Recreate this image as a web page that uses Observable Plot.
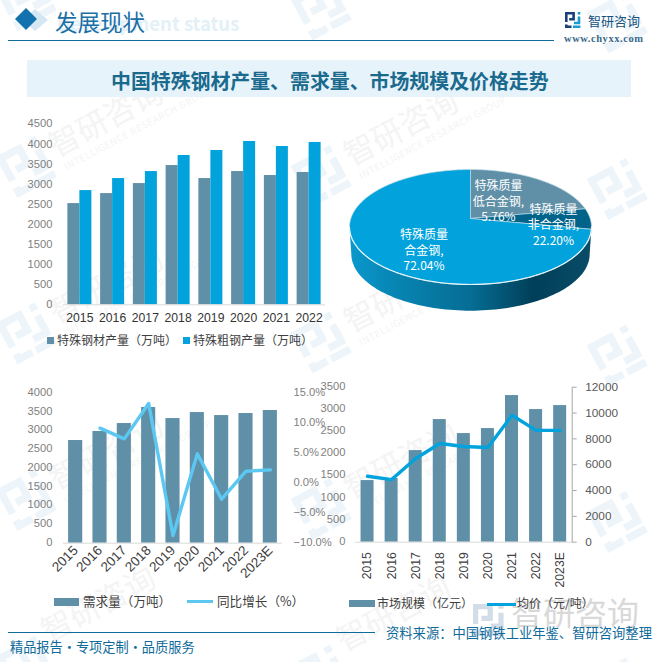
<!DOCTYPE html>
<html lang="zh">
<head>
<meta charset="utf-8">
<script src="https://cdn.jsdelivr.net/npm/d3@7"></script>
<script src="https://cdn.jsdelivr.net/npm/@observablehq/plot@0.6"></script>
<style>
html,body{margin:0;padding:0;background:#fff;}
#page{position:relative;width:658px;height:662px;overflow:hidden;font-family:"Noto Sans CJK SC","Noto Sans",sans-serif;}
#page svg{position:absolute;overflow:visible;}
.t{position:absolute;white-space:nowrap;line-height:1;}
.sw{position:absolute;}
</style>
</head>
<body>
<div id="page"></div>
<script>
const years8 = ["2015","2016","2017","2018","2019","2020","2021","2022"];
const years9 = ["2015","2016","2017","2018","2019","2020","2021","2022","2023E"];
const specialSteel = [2516,2765,3014,3462,3139,3313,3214,3289];
const crudeSteel = [2840,3139,3313,3712,3837,4060,3936,4036];
const demand = [2738,2978,3191,3618,3324,3484,3404,3458,3538];
const demandGrowth = [null,9.17,7.39,13.28,-8.72,4.89,-2.67,2.0,2.22];
const marketSize = [1392,1437,2069,2769,2453,2566,3311,2995,3085];
const avgPrice = [5106,4847,6480,7646,7413,7335,9824,8657,8657];
const pieNames = ["特殊质量非合金钢","特殊质量低合金钢","特殊质量合金钢"];
const pieShares = [22.20,5.76,72.04];

const GRAY="#5f90a8", BLUE="#02a3dc", SKY="#5cc8f2", DARKB="#00638a", INK="#0e6a9a";
const FONT_NUM='"Liberation Sans",Arial,sans-serif';
const page=document.getElementById("page");
const plain=d3.format("d");

function place(node,left,top,z){
  node.style.position="absolute";node.style.left=left+"px";node.style.top=top+"px";
  node.style.zIndex=z;page.appendChild(node);return node;
}
function text(str,x,y,size,color,extra={}){
  const d=document.createElement("div");d.className="t";d.textContent=str;
  Object.assign(d.style,{left:x+"px",top:(y-size/2)+"px",fontSize:size+"px",color,zIndex:extra.z??5},extra.style||{});
  page.appendChild(d);return d;
}
function box(x,y,w,h,color,z=5){
  const d=document.createElement("div");d.className="sw";
  Object.assign(d.style,{left:x+"px",top:y+"px",width:w+"px",height:h+"px",background:color,zIndex:z});
  page.appendChild(d);return d;
}
const baseStyle={background:"transparent",fontFamily:FONT_NUM,overflow:"visible"};

/* ---------- decoration: watermark, header, footer ---------- */
const logoDark="M1.3 10V1.3H8.6V7.2H4.2M1.3 12.6V14.7H6.5";
const logoLight="M14 0V2.4M14 4.4V11H9M8 14.7H15.4";
function logoMarkup(c1,c2){return `<path d="${logoDark}" fill="none" stroke="${c1}" stroke-width="2.6"/><path d="${logoLight}" fill="none" stroke="${c2}" stroke-width="2.6"/>`;}
let wm="";
[0,166.5,333,499.5,666].forEach((ry,row)=>{
  [[27,0],[322,9],[618,22]].forEach(([cx,dy],col)=>{
    const showName=row>0&&col<2;
    const showEnglish=showName&&row<4;
    const nameY=row===4?-10:6;
    wm+=`<g transform="translate(${cx},${ry+dy}) rotate(-28)">
      <g transform="scale(2.9) translate(-8,-8)">${logoMarkup("#edf5fa","#edf5fa")}</g>
      ${showName?`<text x="30" y="${nameY}" font-size="31" fill="#f4f4f4">智研咨询</text>`:""}
      ${showEnglish?`<text x="33" y="22" font-size="9.5" letter-spacing="0.6" fill="#f4f4f4" font-family="${FONT_NUM}">INTELLIGENCE RESEARCH GROUP</text>`:""}
    </g>`;
  });
});
const deco=document.createElementNS("http://www.w3.org/2000/svg","svg");
deco.setAttribute("width",658);deco.setAttribute("height",662);
deco.style.left="0";deco.style.top="0";deco.style.zIndex=0;
deco.innerHTML=wm+`
  <text x="57" y="31" font-size="18.5" font-weight="700" fill="#e4f0f8" font-family="${FONT_NUM}">Development status</text>
  <polygon points="35,9 48,20 35,31 22,20" fill="#d5e7f3"/>
  <polygon points="26,8 37,19 26,30 15,19" fill="#1272ad"/>
  <line x1="8" x2="554" y1="40.5" y2="40.5" stroke="${INK}" stroke-width="1.2"/>
  <rect x="27" y="60" width="604" height="37" fill="#e6f3fb"/>
  <line x1="8" x2="375" y1="632.5" y2="632.5" stroke="${INK}" stroke-width="1.2"/>
  <g transform="translate(473,604) scale(2)">${logoMarkup("#d3dde7","#d3dde7")}</g>
  <g transform="translate(565,12)">${logoMarkup("#1b3f7a","#1a9ad6")}</g>
  <text x="511" y="625" font-size="32" fill="#d9d9d9">智研咨询</text>`;
page.appendChild(deco);

text("发展现状",55,21,22.5,"#1a6fa5");
text("智研咨询",588,20,13,"#17527d");
text("www.chyxx.com",564,39,10.5,"#3a6a8a",{style:{fontFamily:'"Liberation Serif",serif',fontWeight:"700",letterSpacing:"0.55px"}});
text("中国特殊钢材产量、需求量、市场规模及价格走势",111,81,19.9,"#1a6a8e",{style:{fontWeight:"700"}});
text("资料来源：中国钢铁工业年鉴、智研咨询整理",386,633,13.3,INK);
text("精品报告·专项定制·品质服务",10,647,13.2,INK);

/* ---------- chart 1: production ---------- */
const c1=years8.map((year,i)=>({year,a:specialSteel[i],b:crudeSteel[i]}));
place(Plot.plot({
  width:335,height:230,marginTop:18.3,marginBottom:30.7,marginLeft:63,marginRight:10,style:baseStyle,
  x:{type:"band",domain:years8,paddingInner:0.267,paddingOuter:0.1335,round:false,label:null},
  y:{domain:[0,4500],label:null},
  marks:[
    Plot.axisY({ticks:d3.range(0,4501,500),tickSize:0,tickPadding:11,fontSize:11.2,color:"#7f7f7f",label:null,tickFormat:plain}),
    Plot.axisX({tickSize:0,tickPadding:9,fontSize:12.2,color:"#333333",label:null}),
    Plot.barY(c1,{x:"year",y:"a",fill:GRAY,insetRight:12}),
    Plot.barY(c1,{x:"year",y:"b",fill:BLUE,insetLeft:12}),
    Plot.ruleY([0],{stroke:"#d9d9d9"})
  ]
}),0,105,2);
box(47,336.5,7,7,GRAY);
text("特殊钢材产量（万吨）",57,340,12,"#404040");
box(183,336.5,7,7,BLUE);
text("特殊粗钢产量（万吨）",193,340,12,"#404040");

/* ---------- chart 2: 3-D pie ---------- */
const APEX=0.148, DEPTH=0.47, BOTTOM_R=0.985;
function rim(a){ // point of the ellipse reached from the off-centre apex along angle a
  const c=Math.cos(a),s=Math.sin(a),t=-APEX*c+Math.sqrt(APEX*APEX*c*c-APEX*APEX+1);
  return {x:t*s,y:APEX+t*c};
}
const pieAngles=d3.cumsum(pieShares).map(v=>v/100*2*Math.PI);
const slices=[];
pieNames.forEach((name,i)=>{
  const a0=i?pieAngles[i-1]:0,a1=pieAngles[i];
  slices.push({name,x:0,y:APEX});
  d3.range(a0,a1,0.02).concat([a1]).forEach(a=>slices.push({name,...rim(a)}));
  slices.push({name,x:0,y:APEX});
});
const wall=[];
d3.range(-90,90.1,2).forEach(d=>{const r=d*Math.PI/180;wall.push({x:Math.sin(r),y:-Math.cos(r)});});
d3.range(90,-90.1,-2).forEach(d=>{const r=d*Math.PI/180;wall.push({x:BOTTOM_R*Math.sin(r),y:-BOTTOM_R*Math.cos(r)-DEPTH});});
const front=d3.range(-90,90.1,2).map(d=>{const r=d*Math.PI/180;return {x:Math.sin(r),y:-Math.cos(r)};});
const pieLabels=[
  {label:"特殊质量\n低合金钢,\n5.76%",x:0.231,y:0.452},
  {label:"特殊质量\n非合金钢,\n22.20%",x:0.686,y:0.043},
  {label:"特殊质量\n合金钢,\n72.04%",x:-0.384,y:-0.40}
];
function wallGradient(){
  const s=document.createElementNS("http://www.w3.org/2000/svg","g");
  s.innerHTML=`<defs><linearGradient id="wallG" x1="0" x2="1" y1="0" y2="0">
    <stop offset="0" stop-color="#0a98cc"/><stop offset="0.2" stop-color="#0784b2"/>
    <stop offset="0.5" stop-color="#066d94"/><stop offset="0.76" stop-color="#003f58"/>
    <stop offset="1" stop-color="#0a4c68"/></linearGradient></defs>`;
  return s;
}
place(Plot.plot({
  width:260,height:160,margin:0,style:baseStyle,
  x:{domain:[-1,1],range:[9,251],axis:null},
  y:{domain:[1,-1],range:[9,124],axis:null},
  color:{domain:pieNames,range:[GRAY,DARKB,BLUE]},
  marks:[
    wallGradient,
    Plot.line(wall,{x:"x",y:"y",fill:"url(#wallG)",stroke:"none"}),
    Plot.line(slices,{x:"x",y:"y",z:"name",fill:"name",stroke:"#bfdbe6",strokeWidth:0.7}),
    Plot.line(front,{x:"x",y:"y",stroke:"#e6f4fa",strokeWidth:1.2}),
    Plot.text(pieLabels,{x:"x",y:"y",text:"label",fill:"#fff",fontSize:12,lineHeight:1.29,fontFamily:'"Noto Sans CJK SC",sans-serif'})
  ]
}),340,160,2);

/* ---------- chart 3: demand ---------- */
const c3=years9.map((year,i)=>({year,v:demand[i],g:demandGrowth[i]}));
const s3={width:335,height:200,marginTop:17.7,marginBottom:32.3,marginLeft:63,marginRight:53,style:baseStyle};
const x9={type:"band",domain:years9,paddingInner:0.42,paddingOuter:0.21,round:false,label:null};
place(Plot.plot({...s3,x:x9,y:{domain:[0,4000],label:null},marks:[
  Plot.axisY({ticks:d3.range(0,4001,500),tickSize:0,tickPadding:11,fontSize:11.2,dy:-1,color:"#7f7f7f",label:null,tickFormat:plain}),
  Plot.axisX({tickSize:0,tickPadding:5,tickRotate:-45,fontSize:13.5,color:"#404040",label:null}),
  Plot.barY(c3,{x:"year",y:"v",fill:GRAY}),
  Plot.ruleY([0],{stroke:"#d9d9d9"})
]}),0,375,2);
place(Plot.plot({...s3,x:{...x9,axis:null},y:{domain:[-10,15],label:null},marks:[
  Plot.axisY({anchor:"right",ticks:d3.range(-10,15.1,5),tickSize:0,tickPadding:11,fontSize:11.2,dy:-1,color:"#7f7f7f",label:null,textAnchor:"start",tickFormat:d=>d3.format(".1f")(d)+"%"}),
  Plot.lineY(c3,{x:"year",y:"g",stroke:SKY,strokeWidth:3.4})
]}),0,375,3);
box(54,598,25,8,GRAY);
text("需求量（万吨）",83,601.5,12.6,"#404040");
box(187,600,26,3,SKY);
text("同比增长（%）",217,601.5,12.6,"#404040");

/* ---------- chart 4: market size and price ---------- */
const c4=years9.map((year,i)=>({year,v:marketSize[i],p:avgPrice[i]}));
const s4={width:340,height:200,marginTop:11.7,marginBottom:33.3,marginLeft:55,marginRight:68.3,style:baseStyle};
const x94={type:"band",domain:years9,paddingInner:0.46,paddingOuter:0.23,round:false,label:null};
place(Plot.plot({...s4,x:x94,y:{domain:[0,3500],label:null},marks:[
  Plot.axisY({ticks:d3.range(0,3501,500),tickSize:0,tickPadding:10,fontSize:11.2,dy:-1,color:"#7f7f7f",label:null,tickFormat:plain}),
  Plot.axisX({tickSize:0,tickPadding:10,tickRotate:-90,fontSize:12.2,color:"#404040",label:null}),
  Plot.barY(c4,{x:"year",y:"v",fill:GRAY}),
  Plot.ruleY([0],{stroke:"#d9d9d9"})
]}),300,375,2);
place(Plot.plot({...s4,x:{...x94,axis:null},y:{domain:[0,12000],label:null},marks:[
  Plot.frame({anchor:"right",stroke:"#a6a6a6"}),
  Plot.axisY({anchor:"right",ticks:d3.range(0,12001,2000),tickSize:4,tickPadding:9,fontSize:11.8,color:"#595959",stroke:"#a6a6a6",label:null,textAnchor:"start",tickFormat:plain}),
  Plot.lineY(c4,{x:"year",y:"p",stroke:BLUE,strokeWidth:3.4})
]}),300,375,3);
box(349,600,26,7,GRAY);
text("市场规模（亿元）",377,603,12,"#404040");
box(487,602.5,29,3,BLUE);
text("均价（元/吨）",517,603,12,"#404040");
</script>
</body>
</html>
